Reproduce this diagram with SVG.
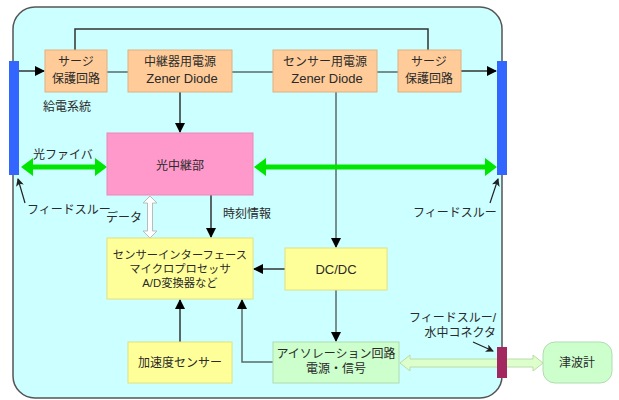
<svg xmlns="http://www.w3.org/2000/svg" width="619" height="400" viewBox="0 0 619 400">
<style>
text{font-family:"Liberation Sans","Noto Sans CJK JP",sans-serif;font-size:12px;fill:#2a2a2a;text-anchor:middle}
.l{text-anchor:start}
.r{text-anchor:end}
.z{font-size:13px}
.or{fill:#ffcc99;stroke:#e0b080;stroke-width:1}
.ye{fill:#ffff99;stroke:#e0e080;stroke-width:1}
.gr{fill:#ccffcc;stroke:#b0dcb0;stroke-width:1}
.ln{fill:none;stroke:#333;stroke-width:1.5}
.lg{fill:none;stroke:#5a6a6a;stroke-width:1.5}
</style>
<defs>
<marker id="ah" markerWidth="10" markerHeight="10" refX="9" refY="5" orient="auto" markerUnits="userSpaceOnUse">
<path d="M0,0 L10,5 L0,10 Z" fill="#000"/>
</marker>
<marker id="sh" markerWidth="8" markerHeight="8" refX="7" refY="4" orient="auto" markerUnits="userSpaceOnUse">
<path d="M0,0 L8,4 L0,8 L2,4 Z" fill="#222"/>
</marker>
</defs>
<rect x="13" y="7" width="489" height="391" rx="22" fill="#ccffff" stroke="#555" stroke-width="1.5"/>
<g id="connectors">
<polyline class="ln" points="75,50 75,29 428,29 428,50"/>
<line class="lg" x1="107" y1="72" x2="128" y2="72"/>
<line class="lg" x1="232" y1="72" x2="273" y2="72"/>
<line class="lg" x1="377" y1="72" x2="398" y2="72"/>
<line class="ln" x1="19" y1="71" x2="44" y2="71" marker-end="url(#ah)"/>
<line class="ln" x1="461" y1="71" x2="496" y2="71" marker-end="url(#ah)"/>
<line class="ln" x1="180" y1="92" x2="180" y2="132" marker-end="url(#ah)"/>
<line class="lg" x1="336" y1="92" x2="336" y2="247" marker-end="url(#ah)"/>
<line class="lg" x1="336" y1="290" x2="336" y2="341" marker-end="url(#ah)"/>
<line class="ln" x1="285" y1="269" x2="254" y2="269" marker-end="url(#ah)"/>
<line class="ln" x1="211" y1="195" x2="211" y2="237" marker-end="url(#ah)"/>
<line class="ln" x1="180" y1="342" x2="180" y2="300" marker-end="url(#ah)"/>
<polyline class="lg" points="273,362 242,362 242,300" marker-end="url(#ah)"/>
<path d="M21,167 L33,158 L33,164.5 L95,164.5 L95,158 L107,167 L95,176 L95,169.5 L33,169.5 L33,176 Z" fill="#00e600"/>
<path d="M254,167 L266,158 L266,164.5 L485,164.5 L485,158 L497,167 L485,176 L485,169.5 L266,169.5 L266,176 Z" fill="#00e600"/>
<path d="M150,196 L157,203 L152.5,203 L152.5,231 L157,231 L150,238 L143,231 L147.5,231 L147.5,203 L143,203 Z" fill="#fff" stroke="#bbb" stroke-width="1"/>
<path d="M400,363 L410,355 L410,359 L533,359 L533,355 L543,363 L533,371 L533,367 L410,367 L410,371 Z" fill="#ddffcc" stroke="#b8dca8" stroke-width="1"/>
<line stroke="#222" stroke-width="1.2" x1="25" y1="203" x2="18" y2="179" marker-end="url(#sh)"/>
<line stroke="#222" stroke-width="1.2" x1="490" y1="203" x2="498" y2="179" marker-end="url(#sh)"/>
<line stroke="#222" stroke-width="1.2" x1="473" y1="342" x2="493" y2="351" marker-end="url(#sh)"/>
</g>
<g id="feed-left"><rect x="9" y="61" width="10" height="114" fill="#3366ff"/></g>
<g id="feed-right"><rect x="497" y="61" width="10" height="114" fill="#3366ff"/></g>
<g id="connector-water"><rect x="497" y="347" width="10" height="31" fill="#a3285f"/></g>
<g id="surge-left"><rect class="or" x="45" y="50" width="62" height="42"/><text x="76" y="66">サージ</text><text x="76" y="83">保護回路</text></g>
<g id="relay-power"><rect class="or" x="128" y="50" width="104" height="42"/><text x="180" y="66">中継器用電源</text><text class="z" x="182" y="83">Zener Diode</text></g>
<g id="sensor-power"><rect class="or" x="273" y="50" width="104" height="42"/><text x="325" y="66">センサー用電源</text><text class="z" x="327" y="83">Zener Diode</text></g>
<g id="surge-right"><rect class="or" x="398" y="50" width="63" height="42"/><text x="429" y="66">サージ</text><text x="429" y="83">保護回路</text></g>
<g id="optical-relay"><rect x="107" y="133" width="146" height="62" fill="#ff99cc" stroke="#e888b8"/><text x="180" y="170">光中継部</text></g>
<g id="sensor-if"><rect class="ye" x="107" y="238" width="146" height="61"/><text style="font-size:11.3px"><tspan x="180" y="259">センサーインターフェース</tspan><tspan x="180" y="273">マイクロプロセッサ</tspan><tspan x="180" y="287">A/D変換器など</tspan></text></g>
<g id="dcdc"><rect class="ye" x="285" y="248" width="102" height="42"/><text class="z" x="336" y="274">DC/DC</text></g>
<g id="accel"><rect class="ye" x="128" y="342" width="104" height="41"/><text x="180" y="367">加速度センサー</text></g>
<g id="isolation"><rect class="gr" x="273" y="342" width="126" height="41"/><text><tspan x="336" y="358">アイソレーション回路</tspan><tspan x="336" y="373">電源・信号</tspan></text></g>
<g id="tsunami"><rect class="gr" x="543" y="342" width="69" height="41" rx="12"/><text x="577" y="367">津波計</text></g>
<g id="labels">
<text class="l" x="43" y="111">給電系統</text>
<text class="l" x="33" y="159">光ファイバ</text>
<text class="l" x="27" y="214">フィードスルー</text>
<text class="l" x="106" y="222">データ</text>
<text class="l" x="223" y="218">時刻情報</text>
<text class="l" x="413" y="217">フィードスルー</text>
<text class="r" x="496" y="322">フィードスルー/</text>
<text class="r" x="496" y="337">水中コネクタ</text>
</g>
</svg>
